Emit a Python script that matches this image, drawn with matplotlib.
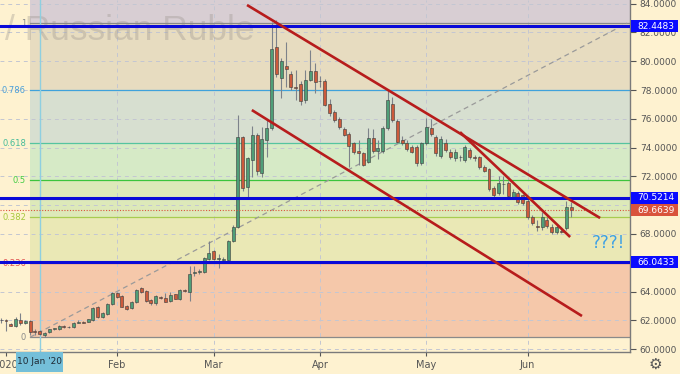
import numpy as np
import pandas as pd
import matplotlib
matplotlib.use('Agg')
import matplotlib.pyplot as plt
from matplotlib.patches import Rectangle

# ---------------- data ----------------
dates = pd.bdate_range('2019-12-31', '2020-06-12')

opens = [62.00, 62.02, 61.74, 61.63, 62.02, 61.79, 61.95, 61.26, 61.26, 60.96,
         61.16, 61.40, 61.37, 61.60, 61.52, 61.51, 61.84, 61.88, 61.91, 62.02,
         62.95, 62.25, 62.44, 63.11, 63.92, 63.69, 62.99, 62.83, 63.25, 64.22,
         64.04, 63.41, 63.18, 63.64, 63.53, 63.34, 63.80, 63.48, 64.11, 63.99,
         65.26, 65.33, 65.33, 66.24, 66.84, 66.24, 66.22, 66.19, 67.54, 68.51,
         74.72, 71.24, 73.14, 74.88, 72.21, 74.53, 75.34, 80.97, 78.82, 79.67,
         79.11, 78.19, 78.42, 77.31, 78.70, 79.35, 78.65, 78.65, 77.03, 76.50,
         75.97, 75.29, 74.95, 74.30, 73.74, 73.60, 73.02, 74.65, 73.77, 73.77,
         75.34, 77.03, 75.87, 74.53, 74.30, 74.07, 74.07, 72.91, 74.30, 75.39,
         74.76, 73.42, 74.30, 73.72, 73.26, 73.37, 73.14, 73.84, 73.33, 73.33,
         72.68, 72.49, 71.17, 70.82, 71.47, 71.52, 70.50, 70.82, 70.71, 70.31,
         69.16, 68.58, 68.46, 68.97, 68.51, 68.16, 68.23, 68.39, 69.90]
highs = [62.13, 62.07, 61.79, 62.20, 62.48, 62.02, 62.02, 61.37, 61.30, 61.20,
         61.42, 61.50, 61.65, 61.65, 61.58, 61.88, 62.00, 61.96, 62.12, 62.95,
         63.00, 62.60, 63.18, 63.98, 64.00, 63.75, 63.05, 63.35, 64.18, 64.30,
         64.10, 63.46, 63.75, 63.72, 63.87, 63.95, 63.85, 64.20, 64.20, 65.77,
         65.80, 65.60, 66.40, 67.50, 66.90, 66.60, 66.40, 67.60, 68.60, 76.27,
         74.80, 73.35, 75.50, 75.00, 75.46, 75.92, 82.70, 82.87, 80.20, 81.36,
         79.30, 79.40, 78.60, 79.40, 80.79, 79.86, 79.00, 78.80, 77.40, 76.60,
         76.10, 75.40, 75.10, 74.40, 74.53, 73.70, 75.34, 75.30, 74.50, 75.50,
         78.00, 77.50, 76.00, 74.80, 74.50, 74.20, 74.20, 74.40, 76.04, 76.00,
         74.90, 74.80, 74.60, 73.90, 73.90, 73.50, 74.20, 74.00, 73.50, 73.45,
         72.80, 72.60, 71.30, 72.00, 72.00, 71.70, 71.10, 71.00, 70.80, 70.40,
         69.30, 69.00, 69.50, 69.20, 68.70, 68.70, 68.40, 70.30, 70.20]
lows = [61.84, 61.28, 61.60, 61.56, 61.70, 61.72, 60.98, 60.98, 61.00, 60.87,
        61.10, 61.33, 61.32, 61.47, 61.46, 61.49, 61.80, 61.80, 61.86, 61.98,
        62.15, 62.18, 62.40, 63.05, 63.55, 62.90, 62.70, 62.78, 63.20, 63.92,
        63.28, 63.05, 63.10, 63.48, 63.25, 63.30, 63.45, 63.42, 63.98, 63.36,
        65.10, 65.20, 65.28, 66.19, 66.19, 65.61, 66.10, 66.10, 67.45, 68.40,
        71.00, 70.59, 71.98, 72.10, 71.98, 73.37, 75.20, 78.90, 77.43, 78.24,
        78.00, 77.31, 76.96, 77.08, 78.60, 77.77, 78.20, 76.90, 76.20, 75.80,
        75.30, 74.80, 72.68, 73.55, 72.79, 72.70, 72.91, 73.60, 73.20, 73.60,
        75.20, 75.80, 74.30, 74.20, 73.80, 73.60, 72.75, 72.80, 74.20, 74.80,
        73.40, 73.30, 73.70, 73.20, 73.10, 73.10, 73.00, 73.20, 73.10, 72.50,
        72.30, 71.00, 70.50, 70.70, 70.80, 70.50, 70.40, 70.10, 70.00, 69.05,
        68.60, 68.20, 68.30, 68.40, 68.00, 68.00, 68.10, 68.30, 69.20]
closes = [62.05, 61.93, 61.63, 62.09, 61.79, 61.95, 61.21, 61.22, 61.05, 61.14,
          61.37, 61.44, 61.60, 61.53, 61.55, 61.84, 61.90, 61.84, 62.07, 62.88,
          62.21, 62.53, 63.11, 63.92, 63.60, 62.95, 62.81, 63.29, 64.11, 63.99,
          63.34, 63.18, 63.69, 63.53, 63.29, 63.76, 63.50, 64.11, 64.04, 65.22,
          65.38, 65.43, 66.31, 66.66, 66.24, 66.35, 66.28, 67.54, 68.51, 74.72,
          71.17, 73.26, 74.88, 72.40, 74.60, 75.34, 80.85, 79.09, 80.04, 79.49,
          78.24, 78.12, 77.26, 78.70, 79.35, 78.54, 78.60, 76.96, 76.38, 75.92,
          75.41, 74.88, 74.11, 73.67, 73.60, 72.79, 74.65, 73.77, 74.00, 75.34,
          77.31, 75.92, 74.41, 74.30, 73.90, 73.72, 72.91, 74.30, 75.46, 74.95,
          73.65, 74.58, 73.84, 73.37, 73.72, 73.32, 74.07, 73.33, 73.30, 72.63,
          72.40, 71.10, 70.71, 71.57, 71.45, 70.64, 70.94, 70.25, 70.13, 69.20,
          68.74, 68.51, 69.16, 68.56, 68.16, 68.51, 68.16, 69.90, 69.66]

fib_low = 60.83
fib_high = 82.65
fib_ratios = [0, 0.236, 0.382, 0.5, 0.618, 0.786, 1]
fib_labels = ['0', '0.236', '0.382', '0.5', '0.618', '0.786', '1']
fib_start_bar = 5

level_lines = [82.4483, 70.5214, 66.0433]
last_price = 69.6639

trend_lines = [((49.9, 83.91), (123.0, 69.11)),
               ((50.9, 76.61), (119.25, 62.30)),
               ((94.0, 75.08), (116.8, 67.79))]
diag_line = ((5.0, 60.83), (128.6, 82.65))

yticks = np.arange(60, 85, 2)
month_starts = ['2020-01-01', '2020-02-01', '2020-03-01', '2020-04-01', '2020-05-01', '2020-06-01']
month_labels = ['2020', 'Feb', 'Mar', 'Apr', 'May', 'Jun']
crosshair_date = '2020-01-10'
crosshair_label = "10 Jan '20"
note_text = '???!'
note_pos = (124.8, 67.35)
watermark = '/ Russian Ruble'

# ---------------- styling ----------------
BG = '#fef2d0'
fib_line_colors = ['#8a8a8a', '#e0453a', '#a8cc50', '#3cc43c', '#55c4a0', '#3fa2db', '#8a8a8a']
fib_text_colors = ['#8a8a8a', '#e05050', '#a6c83c', '#44cc44', '#44bb99', '#4a9fd8', '#8a8a8a']
zone_colors = ['#f5c8aa', '#eae8b5', '#dde9b9', '#d6eac6', '#d7dfd0', '#e7dcc0']
top_zone_color = '#d8ced3'

fig = plt.figure(figsize=(6.8, 3.74), dpi=100, facecolor=BG)
ax = fig.add_axes([0, 22 / 374, 630 / 680, 352 / 374])
ax.set_facecolor(BG)

px_per_bar = 4.83
xmin, xmax = -6 / px_per_bar, 624 / px_per_bar
ymin, ymax = 59.80, 84.257
ax.set_xlim(xmin, xmax)
ax.set_ylim(ymin, ymax)

idx0 = dates.get_loc(pd.Timestamp('2020-01-01'))
x = np.arange(len(dates)) - idx0

# fib zones
levels = [fib_low + r * (fib_high - fib_low) for r in fib_ratios]
for k in range(len(levels) - 1):
    ax.fill_between([fib_start_bar, xmax], levels[k], levels[k + 1],
                    color=zone_colors[k], lw=0, zorder=0.5)
ax.fill_between([fib_start_bar, xmax], levels[-1], ymax, color=top_zone_color, lw=0, zorder=0.5)

# grid
for yt in yticks:
    ax.axhline(yt, color='#c3c6d2', lw=0.7, ls=(0, (4, 4)), zorder=1)
month_pos = []
for ms in month_starts:
    d = dates[dates >= pd.Timestamp(ms)][0]
    month_pos.append(dates.get_loc(d) - idx0)
for mp in month_pos[1:]:
    ax.axvline(mp, color='#c3c6d2', lw=0.7, ls=(0, (4, 4)), zorder=1)

# watermark
ax.text(5 / 630, 1 - 40 / 352, watermark, transform=ax.transAxes, fontsize=25.5,
        family='Liberation Sans', color='#9a948e', alpha=0.35, va='baseline', ha='left', zorder=1.5)

# fib lines & labels
ytr = ax.get_yaxis_transform()
for lv, lc, tc, lab in zip(levels, fib_line_colors, fib_text_colors, fib_labels):
    ax.plot([fib_start_bar, xmax], [lv, lv], color=lc, lw=0.9, zorder=2)
    ax.text(26 / 630, lv, lab, transform=ytr, ha='right', va='center', fontsize=6,
            color=tc, zorder=2)

# diagonal dashed line
ax.plot([diag_line[0][0], diag_line[1][0]], [diag_line[0][1], diag_line[1][1]],
        color='#9a9a9a', lw=0.9, ls=(0, (4, 3)), zorder=2)

# crosshair
xc = dates.get_loc(pd.Timestamp(crosshair_date)) - idx0
ax.axvline(xc, color='#8ecfe0', lw=1.0, zorder=2.2)

# candles
o = np.array(opens); h = np.array(highs); l = np.array(lows); c = np.array(closes)
up = c >= o
cols = np.where(up, '#4f9e78', '#cc5a3c')
ax.vlines(x, l, h, color='#7d828a', lw=0.8, zorder=3)
ax.bar(x, np.maximum(np.abs(c - o), 0.05), bottom=np.minimum(o, c), width=0.62,
       color=cols, edgecolor='#3b3b3b', linewidth=0.4, zorder=4)

# horizontal blue levels and last price
for lv in level_lines:
    ax.axhline(lv, color='#0a0ad8', lw=2.2, zorder=5)
ax.axhline(last_price, color='#d9533c', lw=0.8, ls=(0, (1, 1.5)), zorder=5)

# trend lines
for (p0, p1) in trend_lines:
    ax.plot([p0[0], p1[0]], [p0[1], p1[1]], color='#b71c1c', lw=1.9, zorder=6,
            solid_capstyle='butt')

# note
ax.text(note_pos[0], note_pos[1], note_text, color='#3ba0e6', fontsize=12,
        ha='center', va='center', zorder=6)

# axes styling
for s in ['top', 'left']:
    ax.spines[s].set_visible(False)
for s in ['right', 'bottom']:
    ax.spines[s].set_color('#7a7a7a')
    ax.spines[s].set_linewidth(1.0)
ax.yaxis.tick_right()
ax.set_yticks(yticks)
ax.set_yticklabels([f'{v:.4f}' for v in yticks])
ax.tick_params(axis='y', direction='out', length=4, pad=3, labelsize=6.5,
               colors='#555555', width=0.8)
ax.set_xticks(month_pos)
ax.set_xticklabels(month_labels)
ax.tick_params(axis='x', direction='out', length=3, pad=3, labelsize=7,
               colors='#555555', width=0.8)

# value boxes on right axis
box_h = 12 / 14.39
for lv, fc in [(lv, '#0a0aff') for lv in level_lines] + [(last_price, '#d9533c')]:
    ax.add_patch(Rectangle((1.0 + 1 / 630, lv - box_h / 2), 47 / 630, box_h, transform=ytr,
                           facecolor=fc, edgecolor='none', clip_on=False, zorder=20))
    ax.text(1.0 + 26 / 630, lv, f'{lv:.4f}', transform=ytr, ha='center', va='center',
            fontsize=6.5, color='white', zorder=21, clip_on=False)

# crosshair date label
xtr = ax.get_xaxis_transform()
ax.add_patch(Rectangle((xc - 24 / px_per_bar, -20 / 352), 47 / px_per_bar, 20 / 352,
                       transform=xtr, facecolor='#74bfd9', edgecolor='none',
                       clip_on=False, zorder=20))
ax.text(xc, -10 / 352, crosshair_label, transform=xtr, ha='center', va='center',
        fontsize=6.5, color='#1e2a35', zorder=21, clip_on=False)

# gear icon
fig.text(655 / 680, 1 - 364 / 374, '\u2699', ha='center', va='center', fontsize=11,
         color='#555555', family='DejaVu Sans')

fig.savefig('out.png', dpi=100, facecolor=BG)
